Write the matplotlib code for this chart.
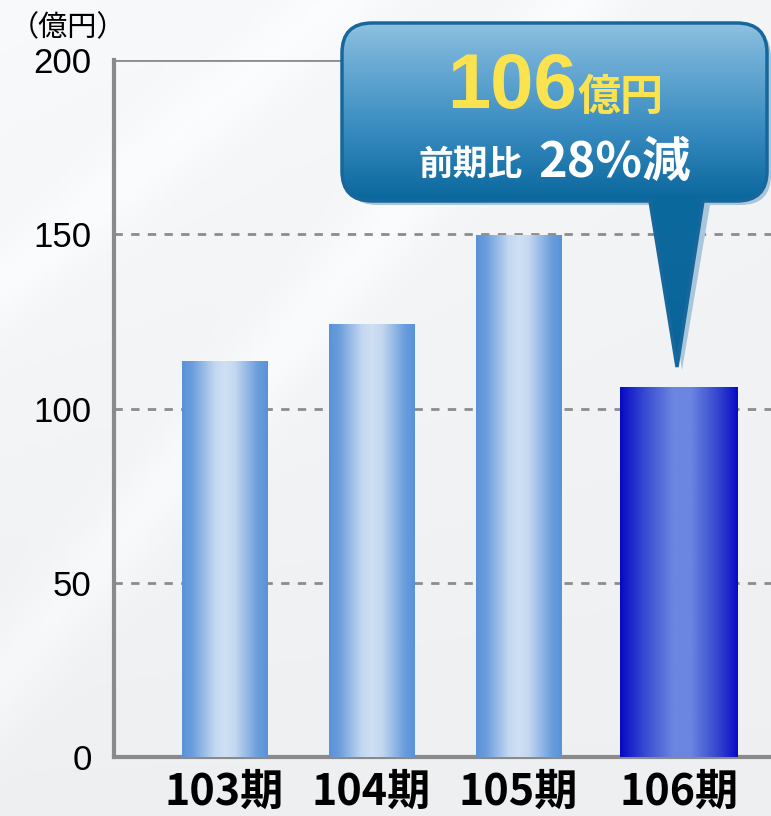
import numpy as np
import matplotlib
matplotlib.use("Agg")
import matplotlib.pyplot as plt
from matplotlib.colors import LinearSegmentedColormap
from matplotlib.path import Path
from matplotlib.patches import PathPatch

plt.rcParams["font.family"] = ["Noto Sans CJK JP", "DejaVu Sans"]

# ── データ ────────────────────────────────────────────────────────────────
periods = ["103期", "104期", "105期", "106期"]
sales = [113.5, 124, 149.5, 106]
y_ticks = [0, 50, 100, 150, 200]
unit_label = "（億円）"
callout_value = "106"
callout_unit = "億円"
callout_prefix = "前期比"
callout_change = "28%減"

W, H = 771, 816
fig = plt.figure(figsize=(W / 100, H / 100), dpi=100)

# ── 背景 ──────────────────────────────────────────────────────────────────
bg = fig.add_axes([0, 0, 1, 1], zorder=-5)
yy, xx = np.mgrid[0:1:200j, 0:1:200j]
base = 0.935 + 0.04 * (1 - yy) * (1 - 0.5 * xx)
streak = 0.025 * np.exp(-((xx + yy * 0.9 - 0.75) ** 2) / 0.004)
streak += 0.02 * np.exp(-((xx * 0.8 + yy - 0.35) ** 2) / 0.003)
g = np.clip(base + streak, 0, 1)
bg.imshow(np.dstack([g, g + 0.004, g + 0.01]).clip(0, 1), extent=(0, 1, 0, 1),
          aspect="auto")
bg.axis("off")

# ── メイン軸 ──────────────────────────────────────────────────────────────
ax = fig.add_axes([114 / W, (H - 757) / H, 1 - 114 / W, (757 - 60) / H])
ax.patch.set_alpha(0)

light_cmap = LinearSegmentedColormap.from_list(
    "light", [(0, "#5a92d8"), (0.12, "#6a9edc"), (0.38, "#c3d7f0"),
              (0.5, "#cfe0f4"), (0.62, "#c3d7f0"), (0.88, "#6a9edc"),
              (1, "#5a92d8")])
dark_cmap = LinearSegmentedColormap.from_list(
    "dark", [(0, "#0808c4"), (0.2, "#3548d0"), (0.45, "#6a86e0"),
             (0.6, "#6a86e0"), (0.85, "#3040cc"), (1, "#0a0ac6")])
grad = np.linspace(0, 1, 256).reshape(1, -1)

x = np.array([0, 1, 2, 3.09])
widths = [0.58, 0.58, 0.58, 0.80]
for i, (xi, v, w) in enumerate(zip(x, sales, widths)):
    cmap = dark_cmap if i == len(periods) - 1 else light_cmap
    ax.imshow(grad, cmap=cmap, extent=(xi - w / 2, xi + w / 2, 0, v),
              aspect="auto", zorder=3, interpolation="bilinear")

for t in y_ticks[1:-1]:
    ax.axhline(t, color="#8c8c8c", lw=2, ls=(0, (3, 3)), zorder=1)
ax.axhline(y_ticks[-1], color="#8c8c8c", lw=2, zorder=1)

ax.set_xlim(-0.752, 3.718)
ax.set_ylim(0, 200)
ax.set_yticks(y_ticks)
ax.set_yticklabels([str(t) for t in y_ticks], fontsize=25,
                   family=["Liberation Sans", "DejaVu Sans"])
ax.set_xticks(x)
ax.set_xticklabels(periods, fontsize=31, fontweight="bold")
ax.tick_params(axis="y", length=0, pad=16)
ax.tick_params(axis="x", length=0, pad=9)
for s in ["top", "right"]:
    ax.spines[s].set_visible(False)
for s in ["left", "bottom"]:
    ax.spines[s].set_color("#8a8a8a")
    ax.spines[s].set_linewidth(3)

# ── 吹き出し（ピクセル座標のオーバーレイ） ───────────────────────────────
ov = fig.add_axes([0, 0, 1, 1], zorder=10)
ov.set_xlim(0, W)
ov.set_ylim(H, 0)
ov.axis("off")

ov.text(10, 36, unit_label, fontsize=21, va="baseline", ha="left")


def callout_path(x0, y0, x1, y1, r, tail_l, tail_r, tip):
    verts = [
        (x0 + r, y0), (x1 - r, y0), (x1, y0), (x1, y0 + r),
        (x1, y1 - r), (x1, y1), (x1 - r, y1),
        (tail_r, y1), tip, (tail_l, y1),
        (x0 + r, y1), (x0, y1), (x0, y1 - r),
        (x0, y0 + r), (x0, y0), (x0 + r, y0), (x0 + r, y0),
    ]
    codes = [
        Path.MOVETO, Path.LINETO, Path.CURVE3, Path.CURVE3,
        Path.LINETO, Path.CURVE3, Path.CURVE3,
        Path.LINETO, Path.LINETO, Path.LINETO,
        Path.LINETO, Path.CURVE3, Path.CURVE3,
        Path.LINETO, Path.CURVE3, Path.CURVE3, Path.CLOSEPOLY,
    ]
    return Path(verts, codes)


box = (342, 23, 767, 201)
shadow = PathPatch(callout_path(box[0] + 5, box[1] + 4, box[2] + 4, box[3] + 4,
                                30, 656, 710, (682, 370)),
                   facecolor="#a9c6da", edgecolor="none", zorder=1)
ov.add_patch(shadow)
bubble = PathPatch(callout_path(*box, 30, 650, 703, (677, 367)),
                   facecolor="none", edgecolor="#17679c", lw=2.5, zorder=3)
ov.add_patch(bubble)
bubble_cmap = LinearSegmentedColormap.from_list(
    "bubble", [(0, "#8ec1e0"), (0.08, "#74b1d8"), (0.3, "#3a8dc1"),
               (0.5, "#0c699e"), (1, "#0a6499")])
fill = ov.imshow(np.linspace(0, 1, 256).reshape(-1, 1), cmap=bubble_cmap,
                 extent=(box[0], box[2], 368, box[1]), aspect="auto", zorder=2,
                 interpolation="bilinear")
fill.set_clip_path(bubble)
ov.set_xlim(0, W)
ov.set_ylim(H, 0)

ov.text(577, 108, callout_value, fontsize=56, fontweight="bold",
        color="#fbe34f", ha="right", va="baseline", zorder=4,
        family=["Liberation Sans", "DejaVu Sans"])
ov.text(578, 110, callout_unit, fontsize=31, fontweight="bold",
        color="#fbe34f", ha="left", va="baseline", zorder=4)
ov.text(418, 175, callout_prefix, fontsize=25, fontweight="bold",
        color="white", ha="left", va="baseline", zorder=4)
ov.text(538, 177, callout_change, fontsize=35, fontweight="bold",
        color="white", ha="left", va="baseline", zorder=4)

fig.savefig("out.png", dpi=100)
